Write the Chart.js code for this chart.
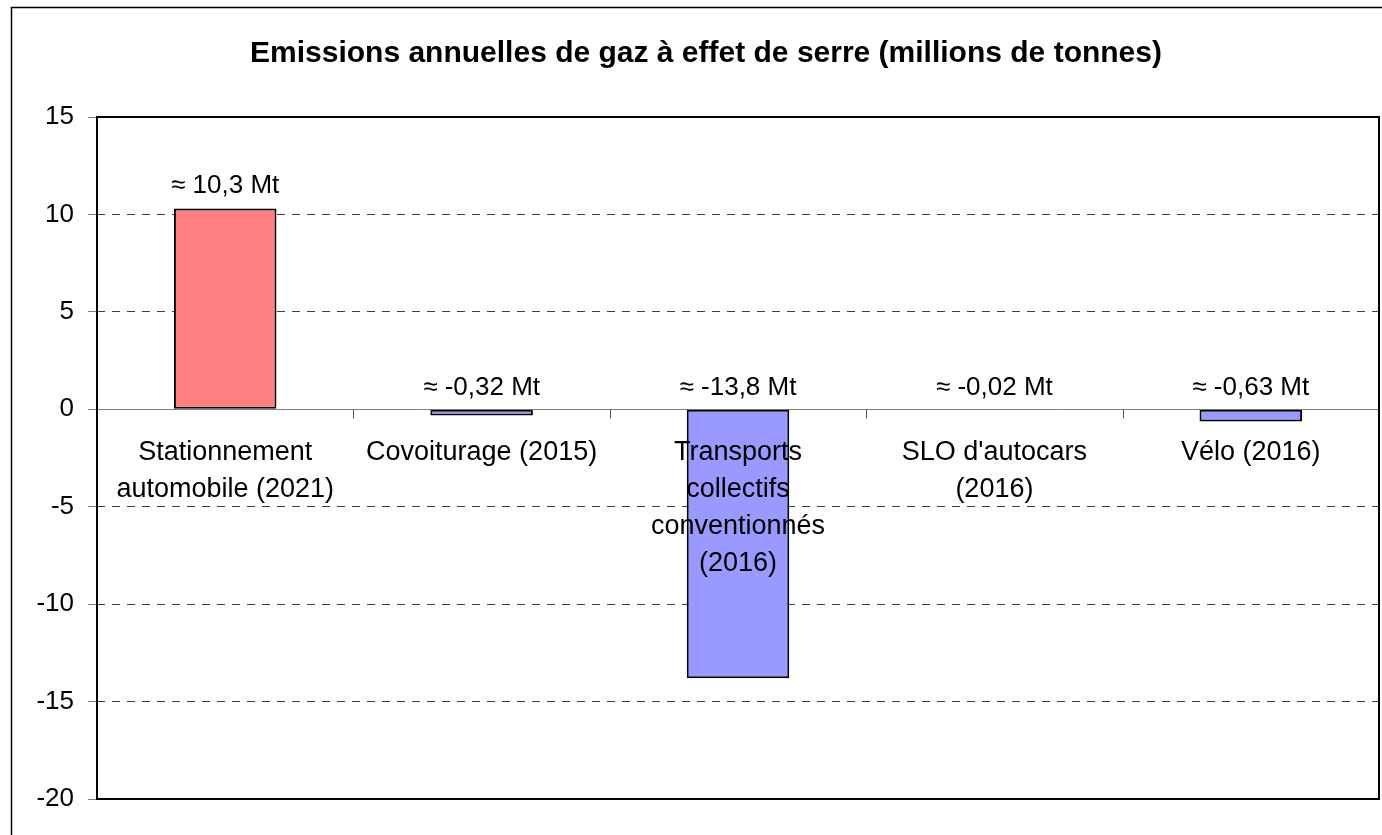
<!DOCTYPE html>
<html lang="fr">
<head>
<meta charset="utf-8">
<title>Emissions annuelles de gaz à effet de serre</title>
<script src="https://cdn.jsdelivr.net/npm/chart.js@4.4.1/dist/chart.umd.min.js"></script>
<style>
  html, body { margin: 0; padding: 0; background: #fff; }
  canvas { display: block; }
</style>
</head>
<body>
<canvas id="myChart" width="1382" height="835"></canvas>
<script>
const categories = [
  ["Stationnement", "automobile (2021)"],
  ["Covoiturage (2015)"],
  ["Transports", "collectifs", "conventionnés", "(2016)"],
  ["SLO d'autocars", "(2016)"],
  ["Vélo (2016)"]
];
const emissions = [10.3, -0.32, -13.8, -0.02, -0.63];
const valueLabels = ["≈ 10,3 Mt", "≈ -0,32 Mt", "≈ -13,8 Mt", "≈ -0,02 Mt", "≈ -0,63 Mt"];
const titleText = "Emissions annuelles de gaz à effet de serre (millions de tonnes)";

const FONT = "'Liberation Sans', Arial, Helvetica, sans-serif";

// frame, zero line, category labels and value labels
const annotations = {
  id: "annotations",
  beforeDraw(chart) {
    const c = chart.ctx;
    c.save();
    c.strokeStyle = "#000";
    c.lineWidth = 1.5;
    c.strokeRect(11.5, 7.5, 1420, 900);
    c.restore();
  },
  beforeDatasetsDraw(chart) {
    const c = chart.ctx;
    const area = chart.chartArea;
    const x = chart.scales.x;
    const zeroY = Math.round(chart.scales.y.getPixelForValue(0)) + 0.5;
    c.save();
    c.strokeStyle = "#808080";
    c.lineWidth = 1;
    c.beginPath();
    c.moveTo(area.left, zeroY);
    c.lineTo(area.right, zeroY);
    c.stroke();
    c.strokeStyle = "#555";
    for (let i = 0; i < categories.length - 1; i++) {
      const bx = Math.round((x.getPixelForValue(i) + x.getPixelForValue(i + 1)) / 2) + 0.5;
      c.beginPath();
      c.moveTo(bx, zeroY);
      c.lineTo(bx, zeroY + 9);
      c.stroke();
    }
    c.restore();
  },
  afterDatasetsDraw(chart) {
    const c = chart.ctx;
    const area = chart.chartArea;
    const x = chart.scales.x;
    const zeroY = chart.scales.y.getPixelForValue(0);
    const bars = chart.getDatasetMeta(0).data;
    c.save();
    c.fillStyle = "#000";
    c.textAlign = "center";
    c.textBaseline = "alphabetic";

    // value labels
    c.font = "26px " + FONT;
    bars.forEach((bar, i) => {
      const y = emissions[i] >= 0 ? bar.y - 16 : zeroY - 14;
      c.fillText(valueLabels[i], bar.x, y);
    });

    // category labels just below the zero line
    c.font = "27px " + FONT;
    categories.forEach((lines, i) => {
      const cx = x.getPixelForValue(i);
      lines.forEach((line, k) => {
        c.fillText(line, cx, zeroY + 51 + k * 37);
      });
    });

    // plot area frame
    c.strokeStyle = "#000";
    c.lineWidth = 2;
    c.strokeRect(area.left, area.top, area.right - area.left, area.bottom - area.top);
    c.restore();
  }
};

const ctx = document.getElementById("myChart");

const myChart = new Chart(ctx, {
  type: "bar",
  data: {
    labels: categories,
    datasets: [
      {
        label: "Emissions",
        data: emissions,
        backgroundColor: emissions.map(v => v >= 0 ? "#FF8080" : "#9999FF"),
        borderColor: "#000",
        borderWidth: 2,
        borderSkipped: false,
        categoryPercentage: 1,
        barPercentage: 0.4,
      },
    ],
  },
  options: {
    responsive: false,
    animation: false,
    layout: {
      padding: { left: 33, right: 3, top: 0, bottom: 36 },
    },
    plugins: {
      legend: { display: false },
      tooltip: { enabled: false },
      title: {
        display: true,
        text: titleText,
        color: "#000",
        font: { family: FONT, size: 30, weight: "bold" },
        padding: { top: 36, bottom: 45 },
      },
    },
    scales: {
      x: {
        display: false,
      },
      y: {
        min: -20,
        max: 15,
        afterFit(scale) {
          scale.width = 64;
        },
        ticks: {
          stepSize: 5,
          color: "#000",
          padding: 14,
          font: { family: FONT, size: 26 },
        },
        grid: {
          color: (c) => (c.tick && c.tick.value === 0) ? "rgba(0,0,0,0)" : "#404040",
          lineWidth: 1,
          tickLength: 9,
          tickColor: "#808080",
        },
        border: {
          display: false,
          dash: [8, 7],
        },
      },
    },
  },
  plugins: [annotations],
});
</script>
</body>
</html>
